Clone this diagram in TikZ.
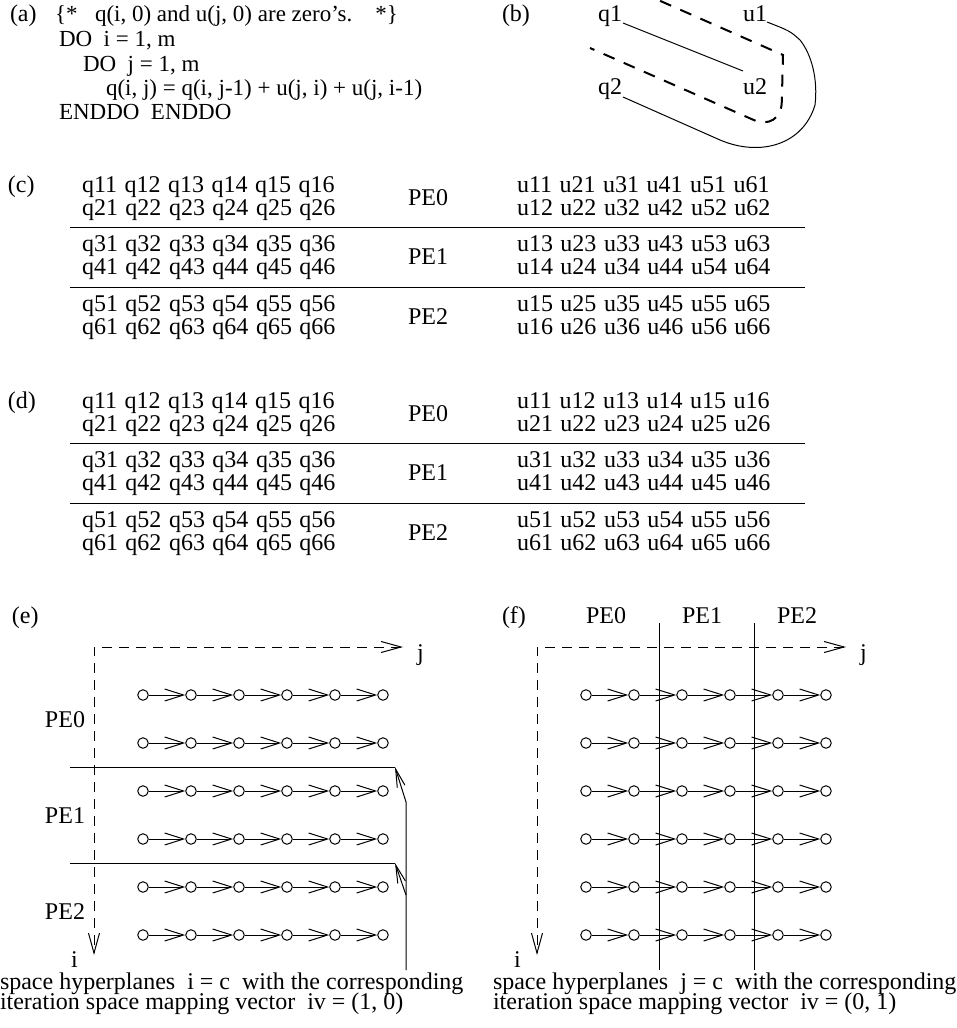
\documentclass[tikz,border=0pt]{standalone}
\usepackage{fontspec}
\setmainfont{Liberation Serif}
\usetikzlibrary{arrows.meta}
\newcommand\gap{\hspace{7.5pt}}
\newcommand\dsp{\ \ }
\tikzset{
  txt/.style={inner sep=0pt, outer sep=0pt, font=\fontsize{24}{24}\selectfont},
  bw/.style={txt, anchor=base west},
  bc/.style={txt, anchor=base},
  be/.style={txt, anchor=base east},
  code/.style={bw, font=\fontsize{23}{23}\selectfont},
  codeend/.style={be, font=\fontsize{23}{23}\selectfont},
  rule/.style={line width=1pt},
  dot/.style={circle, draw, line width=1pt, minimum size=10.5pt, inner sep=0pt},
  flow/.style={line width=1pt, -{Straight Barb[length=19pt,width=12pt]}},
  axis/.style={line width=1pt, dash pattern=on 10pt off 7pt,
     {Straight Barb[length=20pt,width=11pt]}-{Straight Barb[length=20pt,width=11pt]}},
  feed/.style={line width=1pt, -{Straight Barb[length=18pt,width=8pt]}},
  fat dash/.style={line width=2pt, dash pattern=on 12pt off 10pt},
}
\begin{document}
\begin{tikzpicture}[x=1pt, y=-1pt]
\useasboundingbox (0,0) rectangle (957,1028);
\clip (0,0) rectangle (957,1028);
% ---------- (a)
\node[bw] (la) at (10,21) {(a)};
\node[code] (a1a) at (55,21) {\{*};
\node[code] (a1b) at (95,21) {q(i, 0) and u(j, 0) are zero’s.};
\node[codeend] (a1c) at (398,21) {*\}};
\node[code] (a2) at (59,46) {DO\dsp i = 1, m};
\node[code] (a3) at (83,71) {DO\dsp j = 1, m};
\node[code] (a4) at (106,95) {q(i, j) = q(i, j-1) + u(j, i) + u(j, i-1)};
\node[code] (a5) at (59,119) {ENDDO\dsp ENDDO};
% ---------- (b)
\node[bw] (lb) at (502,21) {(b)};
\node[bw] (q1) at (598,21) {q1};
\node[bw] (u1) at (743,21) {u1};
\node[bw] (q2) at (598,94) {q2};
\node[bw] (u2) at (743,94) {u2};
\draw[rule] ([shift={(1,2)}]q1.base east) -- ([shift={(0,-23)}]u2.base west);
\draw[rule] ([shift={(1,3)}]q2.base east) -- (720,140)
   .. controls (760,157) and (803,145) .. (815,105)
   .. controls (818,80) and (812,55) .. (800,40)
   .. controls (790,31) .. ([shift={(0,1)}]u1.base east);
\draw[fat dash] (640,-8) -- (783,55) [rounded corners=30pt] -- (781,132) [sharp corners] -- (590,48);
% ---------- (c)
\node[bw] (lc) at (8,192) {(c)};
\foreach \rw in {1,...,6} {
  \pgfmathsetmacro\yy{192+59.5*int((\rw-1)/2)+23*mod(\rw-1,2)}
  \node[bw] (cq\rw) at (82,\yy) {q\rw1\gap q\rw2\gap q\rw3\gap q\rw4\gap q\rw5\gap q\rw6};
  \node[bw] (cu\rw) at (517,\yy) {u1\rw\gap u2\rw\gap u3\rw\gap u4\rw\gap u5\rw\gap u6\rw};
}
\foreach \p [count=\pi from 0] in {0,1,2} {
  \node[bc] (cpe\p) at (428,{205+59.5*\pi}) {PE\p};
}
\coordinate (cl1a) at (70,227); \coordinate (cl1b) at (805,227);
\coordinate (cl2a) at (70,287); \coordinate (cl2b) at (805,287);
\draw[rule] (cl1a) -- (cl1b);
\draw[rule] (cl2a) -- (cl2b);
% ---------- (d)
\node[bw] (ld) at (8,408) {(d)};
\foreach \rw in {1,...,6} {
  \pgfmathsetmacro\yy{408+59.5*int((\rw-1)/2)+23*mod(\rw-1,2)}
  \node[bw] (dq\rw) at (82,\yy) {q\rw1\gap q\rw2\gap q\rw3\gap q\rw4\gap q\rw5\gap q\rw6};
  \node[bw] (du\rw) at (517,\yy) {u\rw1\gap u\rw2\gap u\rw3\gap u\rw4\gap u\rw5\gap u\rw6};
}
\foreach \p [count=\pi from 0] in {0,1,2} {
  \node[bc] (dpe\p) at (428,{421+59.5*\pi}) {PE\p};
}
\coordinate (dl1a) at (70,443); \coordinate (dl1b) at (805,443);
\coordinate (dl2a) at (70,503); \coordinate (dl2b) at (805,503);
\draw[rule] (dl1a) -- (dl1b);
\draw[rule] (dl2a) -- (dl2b);
% ---------- grids (e) and (f)
\foreach \pn/\dx in {e/0, f/443} {
  \foreach \m in {0,...,5} {
    \foreach \k in {0,...,5} {
      \node[dot] (\pn-\m-\k) at ({143+48*\k+\dx},{695+48*\m}) {};
    }
    \foreach \k [count=\kn] in {0,...,4} {
      \draw[flow] (\pn-\m-\k) -- (\pn-\m-\kn);
    }
  }
  \coordinate (\pn O) at ({94+\dx},647);
  \coordinate (\pn J) at ({403+\dx},647);
  \coordinate (\pn I) at ({94+\dx},955);
  \draw[axis] (\pn J) -- (\pn O) -- (\pn I);
  \node[bw] (\pn jl) at ({417+\dx},660) {j};
  \node[bw] (\pn il) at ({71+\dx},967) {i};
}
% ---------- (e)
\node[bw] (le) at (12,623) {(e)};
\node[be] (epe0) at (85,727) {PE0};
\node[be] (epe1) at (85,823) {PE1};
\node[be] (epe2) at (85,919) {PE2};
\coordinate (eh1a) at (70,767); \coordinate (eh1b) at (395,767);
\coordinate (eh2a) at (70,863); \coordinate (eh2b) at (395,863);
\draw[rule] (eh1a) -- (eh1b);
\draw[rule] (eh2a) -- (eh2b);
\coordinate (ev0) at (406,970);
\coordinate (ev1) at (406,802);
\coordinate (ev2) at (406,895);
\draw[feed] (ev0) -- (ev1) -- (eh1b);
\draw[feed] (ev2) -- (eh2b);
\node[bw] (ec1) at (0,989) {space hyperplanes\dsp i = c\dsp with the corresponding};
\node[bw] (ec2) at (0,1009) {iteration space mapping vector\dsp iv = (1, 0)};
% ---------- (f)
\node[bw] (lf) at (502,623) {(f)};
\node[bc] (fpe0) at (606,623) {PE0};
\node[bc] (fpe1) at (702,623) {PE1};
\node[bc] (fpe2) at (797,623) {PE2};
\coordinate (fv1a) at (659,623); \coordinate (fv1b) at (659,970);
\coordinate (fv2a) at (754,623); \coordinate (fv2b) at (754,970);
\draw[rule] (fv1a) -- (fv1b);
\draw[rule] (fv2a) -- (fv2b);
\node[bw] (fc1) at (493,989) {space hyperplanes\dsp j = c\dsp with the corresponding};
\node[bw] (fc2) at (493,1009) {iteration space mapping vector\dsp iv = (0, 1)};
\end{tikzpicture}
\end{document}
